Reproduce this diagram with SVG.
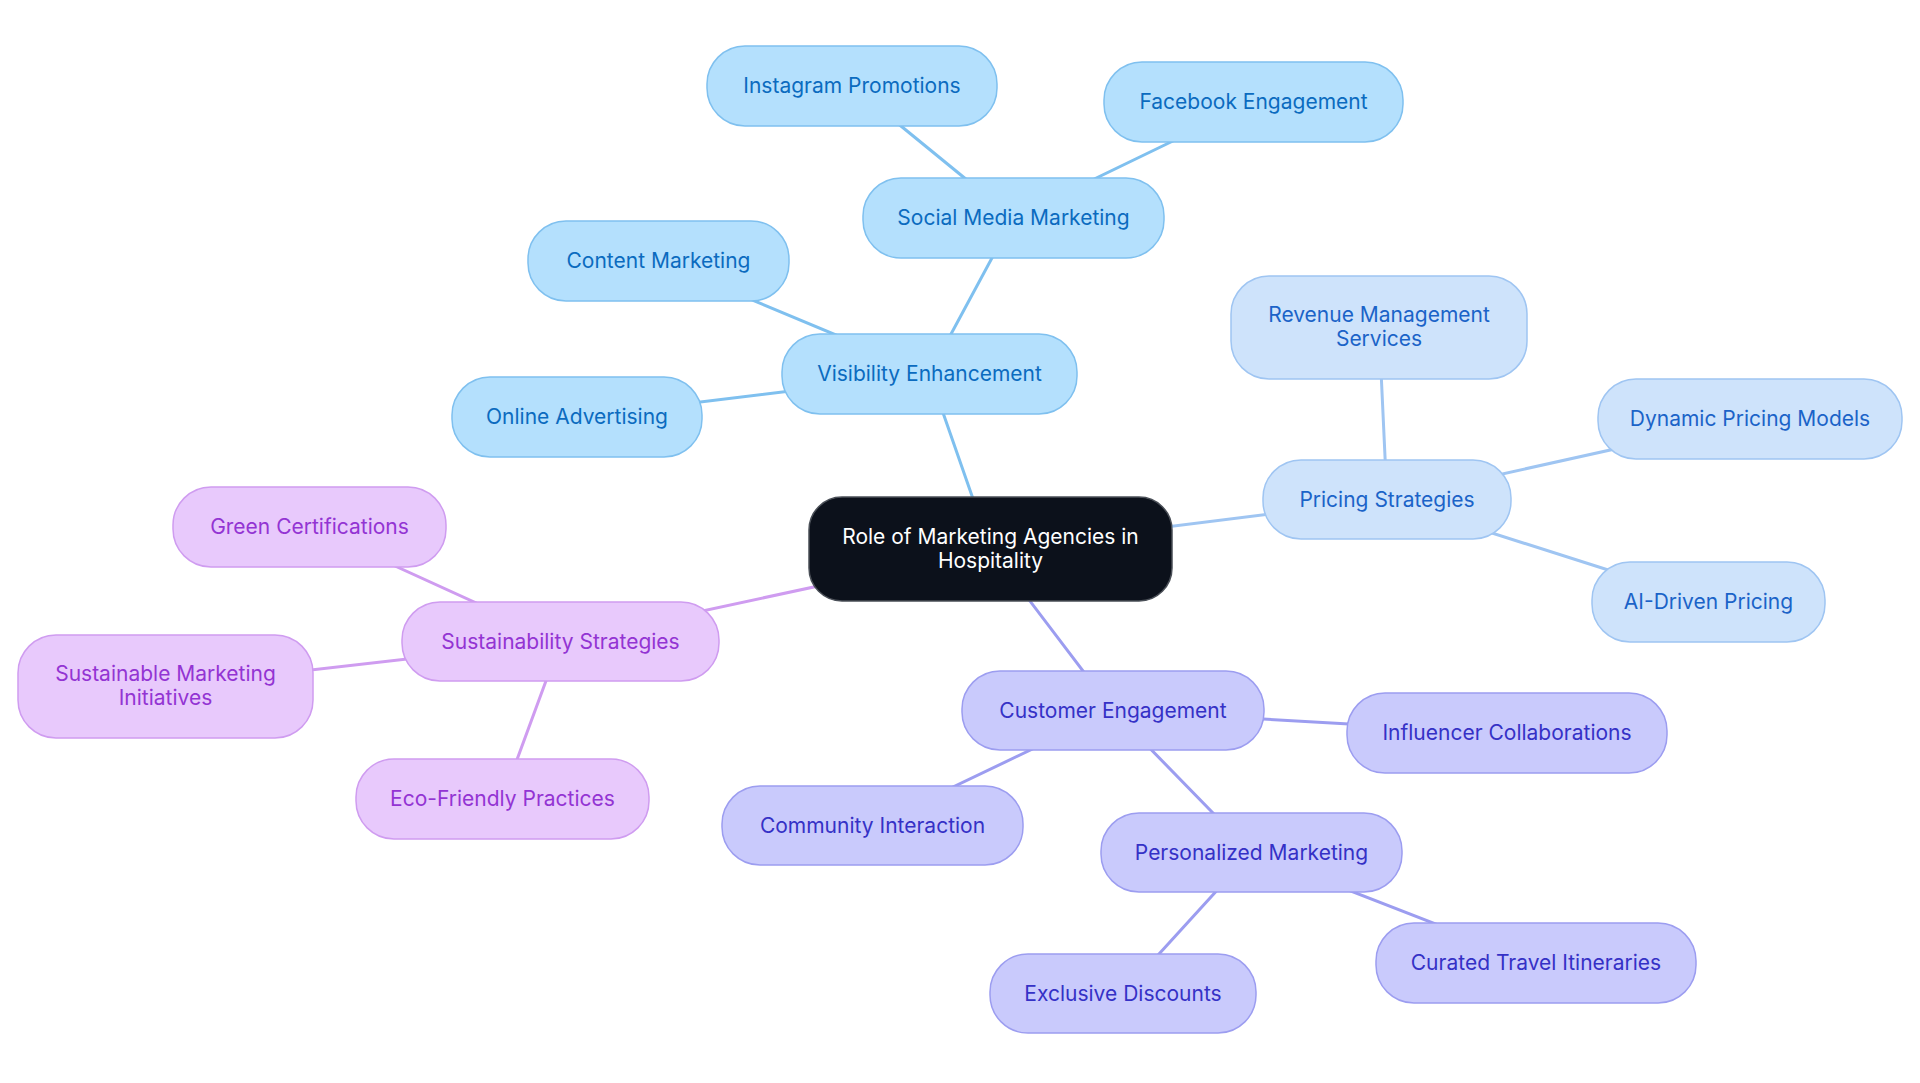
<svg xmlns="http://www.w3.org/2000/svg" width="1920" height="1083" viewBox="0 0 1920 1083">
<style>
  text { font-family: Inter, "Noto Sans", "Liberation Sans", sans-serif; font-size: 21px; text-anchor: middle; }
  .edge { stroke-width: 3; fill: none; stroke-linecap: round; }
  .e-vis { stroke: #7fc0ef; }
  .e-pri { stroke: #9fc5f2; }
  .e-cus { stroke: #9c9df0; }
  .e-sus { stroke: #cf9cf0; }
  .n rect { stroke-width: 1.5; }
  .vis rect { fill: #b4e0fd; stroke: #7fc0ef; }
  .vis text { fill: #0b6bbf; }
  .pri rect { fill: #cee3fb; stroke: #9fc5f2; }
  .pri text { fill: #1b63c8; }
  .cus rect { fill: #c9cafc; stroke: #9c9df0; }
  .cus text { fill: #3531c6; }
  .sus rect { fill: #e8c9fc; stroke: #cf9cf0; }
  .sus text { fill: #9334d3; }
  .root rect { fill: #0c111b; stroke: #4a4f57; stroke-width: 1.5; }
  .root text { fill: #ffffff; }
</style>
<rect width="1920" height="1083" fill="#ffffff"/>
<g id="connectors">
  <line class="edge e-vis" x1="990.5" y1="549" x2="929.5" y2="374"/>
  <line class="edge e-pri" x1="990.5" y1="549" x2="1387" y2="499.5"/>
  <line class="edge e-cus" x1="990.5" y1="549" x2="1113" y2="710.5"/>
  <line class="edge e-sus" x1="990.5" y1="549" x2="560.5" y2="641.5"/>
  <line class="edge e-vis" x1="929.5" y1="374" x2="1013.5" y2="218"/>
  <line class="edge e-vis" x1="929.5" y1="374" x2="658.5" y2="261"/>
  <line class="edge e-vis" x1="929.5" y1="374" x2="577" y2="417"/>
  <line class="edge e-vis" x1="1013.5" y1="218" x2="852" y2="86"/>
  <line class="edge e-vis" x1="1013.5" y1="218" x2="1253.5" y2="102"/>
  <line class="edge e-pri" x1="1387" y1="499.5" x2="1379" y2="327.5"/>
  <line class="edge e-pri" x1="1387" y1="499.5" x2="1750" y2="419"/>
  <line class="edge e-pri" x1="1387" y1="499.5" x2="1708.5" y2="602"/>
  <line class="edge e-cus" x1="1113" y1="710.5" x2="1507" y2="733"/>
  <line class="edge e-cus" x1="1113" y1="710.5" x2="872.5" y2="825.5"/>
  <line class="edge e-cus" x1="1113" y1="710.5" x2="1251.5" y2="852.5"/>
  <line class="edge e-cus" x1="1251.5" y1="852.5" x2="1123" y2="993.5"/>
  <line class="edge e-cus" x1="1251.5" y1="852.5" x2="1536" y2="963"/>
  <line class="edge e-sus" x1="560.5" y1="641.5" x2="309.5" y2="527"/>
  <line class="edge e-sus" x1="560.5" y1="641.5" x2="165.5" y2="686.5"/>
  <line class="edge e-sus" x1="560.5" y1="641.5" x2="502.5" y2="799"/>
</g>
<g id="node-root" class="n root">
  <rect x="809" y="497" width="363" height="104" rx="33"/>
  <text x="990.5" y="544">Role of Marketing Agencies in</text>
  <text x="990.5" y="568">Hospitality</text>
</g>
<g id="node-visibility" class="n vis">
  <rect x="782" y="334" width="295" height="80" rx="38"/>
  <text x="929.5" y="381">Visibility Enhancement</text>
</g>
<g id="node-social" class="n vis">
  <rect x="863" y="178" width="301" height="80" rx="38"/>
  <text x="1013.5" y="225">Social Media Marketing</text>
</g>
<g id="node-instagram" class="n vis">
  <rect x="707" y="46" width="290" height="80" rx="38"/>
  <text x="852" y="93">Instagram Promotions</text>
</g>
<g id="node-facebook" class="n vis">
  <rect x="1104" y="62" width="299" height="80" rx="38"/>
  <text x="1253.5" y="109">Facebook Engagement</text>
</g>
<g id="node-content" class="n vis">
  <rect x="528" y="221" width="261" height="80" rx="38"/>
  <text x="658.5" y="268">Content Marketing</text>
</g>
<g id="node-online" class="n vis">
  <rect x="452" y="377" width="250" height="80" rx="38"/>
  <text x="577" y="424">Online Advertising</text>
</g>
<g id="node-pricing" class="n pri">
  <rect x="1263" y="460" width="248" height="79" rx="38"/>
  <text x="1387" y="506.5">Pricing Strategies</text>
</g>
<g id="node-revenue" class="n pri">
  <rect x="1231" y="276" width="296" height="103" rx="38"/>
  <text x="1379" y="322">Revenue Management</text>
  <text x="1379" y="346">Services</text>
</g>
<g id="node-dynamic" class="n pri">
  <rect x="1598" y="379" width="304" height="80" rx="38"/>
  <text x="1750" y="426">Dynamic Pricing Models</text>
</g>
<g id="node-ai" class="n pri">
  <rect x="1592" y="562" width="233" height="80" rx="38"/>
  <text x="1708.5" y="609">AI-Driven Pricing</text>
</g>
<g id="node-customer" class="n cus">
  <rect x="962" y="671" width="302" height="79" rx="38"/>
  <text x="1113" y="717.5">Customer Engagement</text>
</g>
<g id="node-influencer" class="n cus">
  <rect x="1347" y="693" width="320" height="80" rx="38"/>
  <text x="1507" y="740">Influencer Collaborations</text>
</g>
<g id="node-community" class="n cus">
  <rect x="722" y="786" width="301" height="79" rx="38"/>
  <text x="872.5" y="832.5">Community Interaction</text>
</g>
<g id="node-personalized" class="n cus">
  <rect x="1101" y="813" width="301" height="79" rx="38"/>
  <text x="1251.5" y="859.5">Personalized Marketing</text>
</g>
<g id="node-exclusive" class="n cus">
  <rect x="990" y="954" width="266" height="79" rx="38"/>
  <text x="1123" y="1000.5">Exclusive Discounts</text>
</g>
<g id="node-curated" class="n cus">
  <rect x="1376" y="923" width="320" height="80" rx="38"/>
  <text x="1536" y="970">Curated Travel Itineraries</text>
</g>
<g id="node-sustainability" class="n sus">
  <rect x="402" y="602" width="317" height="79" rx="38"/>
  <text x="560.5" y="648.5">Sustainability Strategies</text>
</g>
<g id="node-green" class="n sus">
  <rect x="173" y="487" width="273" height="80" rx="38"/>
  <text x="309.5" y="534">Green Certifications</text>
</g>
<g id="node-sustainable-marketing" class="n sus">
  <rect x="18" y="635" width="295" height="103" rx="38"/>
  <text x="165.5" y="681">Sustainable Marketing</text>
  <text x="165.5" y="705">Initiatives</text>
</g>
<g id="node-eco" class="n sus">
  <rect x="356" y="759" width="293" height="80" rx="38"/>
  <text x="502.5" y="806">Eco-Friendly Practices</text>
</g>
</svg>
